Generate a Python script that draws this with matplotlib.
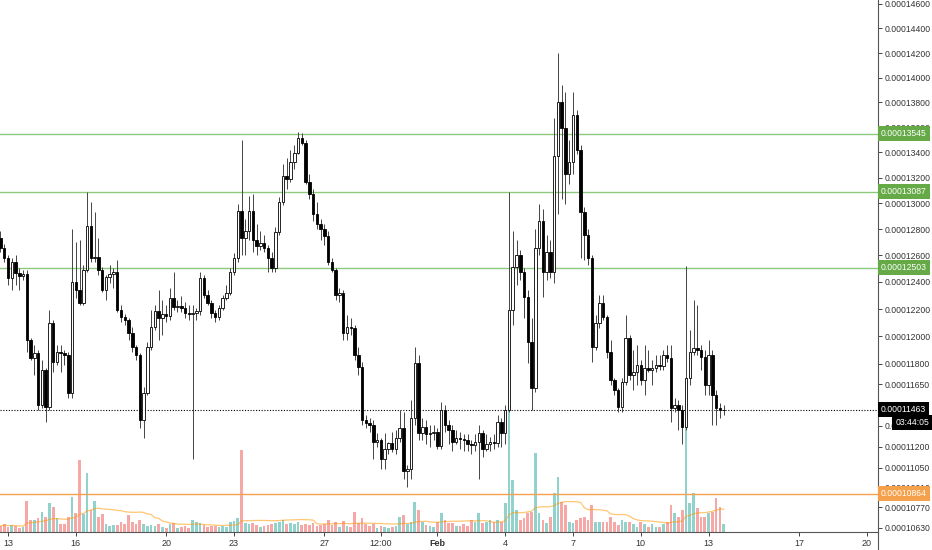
import numpy as np
import pandas as pd
import matplotlib
matplotlib.use('Agg')
import matplotlib.pyplot as plt
import matplotlib.dates as mdates
from matplotlib.lines import Line2D

plt.rcParams['font.family'] = ['Liberation Sans', 'DejaVu Sans']

# 4h candles, prices in satoshi (1e-8)
start = '2020-01-12 16:00'

open_ = [
    12736, 12658, 12580, 12430, 12549, 12466, 12444, 12459, 11976, 11844,
    11881, 11500, 11756, 11486, 12100, 11815, 11888, 11881, 11866, 11588,
    12401, 12342, 12247, 12488, 12821, 12580, 12588, 12488, 12342, 12437,
    12459, 12474, 12196, 12144, 12122, 12027, 11925, 11866, 11392, 11588,
    11925, 12071, 12188, 12137, 12166, 12152, 12283, 12218, 12225, 12210,
    12174, 12166, 12175, 12185, 12430, 12305, 12247, 12174, 12144, 12210,
    12283, 12320, 12474, 12580, 12938, 12736, 12783, 12938, 12720, 12674,
    12697, 12658, 12580, 12503, 12775, 13008, 13210, 13187, 13319, 13397,
    13514, 13475, 13164, 13070, 12915, 12837, 12798, 12744, 12549, 12488,
    12305, 12320, 12027, 12071, 12064, 11866, 11778, 11392, 11371, 11357,
    11237, 11251, 11110, 11181, 11223, 11181, 11265, 11336, 11025, 11039,
    11407, 11808, 11301, 11343, 11287, 11300, 11308, 11202, 11463, 11357,
    11322, 11237, 11265, 11258, 11251, 11216, 11209, 11237, 11301, 11181,
    11216, 11230, 11223, 11378, 11301, 11463, 12196, 12510, 12604, 12474,
    12291, 11961, 11625, 12658, 12860, 12474, 12627, 12474, 13366, 13805,
    13594, 13226, 13319, 13699, 13421, 12930, 12759, 12580, 11925, 12100,
    12247, 12144, 11888, 11683, 11610, 11486, 11669, 11991, 11720, 11742,
    11793, 11683, 11771, 11756, 11771, 11793, 11786, 11866, 11844, 11478,
    11500, 11463, 11343, 11698, 11888, 11917, 11903, 11852, 11647, 11866,
    11573, 11478, 11463,
]

high = [
    12783, 12689, 12604, 12580, 12604, 12503, 12488, 12488, 11991, 11939,
    11903, 11830, 11771, 12196, 12122, 11939, 11939, 11903, 11888, 12798,
    12705, 12720, 12526, 13086, 13008, 12930, 12736, 12510, 12452, 12526,
    12503, 12565, 12232, 12166, 12137, 12071, 11939, 11880, 11632, 11961,
    12196, 12232, 12342, 12269, 12232, 12357, 12474, 12269, 12298, 12254,
    12232, 12232, 12210, 12474, 12452, 12342, 12269, 12196, 12232, 12305,
    12379, 12503, 12619, 12993, 13498, 12876, 13055, 13070, 12837, 12783,
    12759, 12681, 12627, 12814, 13047, 13304, 13358, 13421, 13459, 13561,
    13553, 13498, 13226, 13109, 13008, 12876, 12837, 12783, 12580, 12500,
    12357, 12342, 12159, 12137, 12086, 11925, 11815, 11428, 11407, 11392,
    11301, 11265, 11301, 11237, 11308, 11322, 11463, 11449, 11068, 11537,
    11925, 11866, 11407, 11392, 11357, 11357, 11336, 11522, 11500, 11392,
    11357, 11322, 11308, 11287, 11287, 11251, 11287, 11357, 11322, 11287,
    11272, 11287, 11428, 11407, 11500, 13086, 12783, 12720, 12643, 12503,
    12342, 12137, 12798, 12993, 12954, 12759, 12720, 13675, 14202, 13943,
    13886, 13498, 13886, 13740, 13459, 12969, 12798, 12604, 12159, 12305,
    12305, 12159, 11976, 11698, 11625, 11698, 12159, 12013, 11903, 11939,
    11830, 11939, 11903, 11830, 11866, 11866, 11903, 11939, 11939, 11551,
    11537, 11500, 12518, 12049, 12269, 12232, 11939, 11903, 11976, 11903,
    11610, 11515, 11500,
]

low = [
    12627, 12549, 12379, 12342, 12379, 12342, 12415, 11888, 11830, 11720,
    11463, 11478, 11378, 11463, 11742, 11793, 11742, 11793, 11551, 11551,
    12283, 12232, 12232, 12474, 12549, 12549, 12452, 12327, 12269, 12393,
    12357, 12181, 12108, 12086, 11976, 11888, 11830, 11336, 11265, 11573,
    11903, 12049, 11976, 12013, 12108, 12122, 12196, 12181, 12181, 12137,
    12122, 11110, 12122, 12159, 12283, 12232, 12137, 12108, 12122, 12196,
    12269, 12305, 12452, 12549, 12604, 12604, 12720, 12627, 12604, 12643,
    12627, 12474, 12474, 12474, 12759, 12985, 13109, 13164, 13265, 13382,
    13459, 13148, 13032, 12860, 12798, 12720, 12681, 12526, 12474, 12269,
    12254, 11976, 11976, 12013, 11830, 11720, 11357, 11336, 11308, 11110,
    11195, 11039, 11039, 11145, 11159, 11145, 11237, 10969, 10912, 10969,
    11357, 11251, 11251, 11216, 11195, 11251, 11181, 11181, 11308, 11216,
    11166, 11216, 11181, 11166, 11166, 11145, 11166, 10969, 11124, 11166,
    11166, 11181, 11195, 11195, 11216, 11449, 12086, 12379, 12415, 12137,
    11808, 11463, 11595, 12604, 12291, 12415, 12430, 12393, 12915, 13032,
    12993, 13148, 13226, 13382, 12580, 12565, 12526, 11815, 11903, 12064,
    12122, 11844, 11647, 11573, 11449, 11449, 11647, 11683, 11610, 11647,
    11647, 11573, 11742, 11647, 11742, 11756, 11756, 11815, 11378, 11449,
    11322, 11216, 11322, 11647, 11866, 11866, 11756, 11573, 11573, 11357,
    11357, 11407, 11428,
]

close = [
    12658, 12580, 12430, 12549, 12466, 12444, 12459, 11976, 11844, 11881,
    11500, 11756, 11486, 12100, 11815, 11888, 11881, 11866, 11588, 12401,
    12342, 12247, 12488, 12821, 12580, 12588, 12488, 12342, 12437, 12459,
    12474, 12196, 12144, 12122, 12027, 11925, 11866, 11392, 11588, 11925,
    12071, 12188, 12137, 12166, 12152, 12283, 12218, 12225, 12210, 12174,
    12166, 12175, 12185, 12430, 12305, 12247, 12174, 12144, 12210, 12283,
    12320, 12474, 12580, 12938, 12736, 12783, 12938, 12720, 12674, 12697,
    12658, 12580, 12503, 12775, 13008, 13210, 13187, 13319, 13397, 13514,
    13475, 13164, 13070, 12915, 12837, 12798, 12744, 12549, 12488, 12305,
    12320, 12027, 12071, 12064, 11866, 11778, 11392, 11371, 11357, 11237,
    11251, 11110, 11181, 11223, 11181, 11265, 11336, 11025, 11039, 11407,
    11808, 11301, 11343, 11287, 11300, 11308, 11202, 11463, 11357, 11322,
    11237, 11265, 11258, 11251, 11216, 11209, 11237, 11301, 11181, 11216,
    11230, 11223, 11378, 11301, 11463, 12196, 12510, 12604, 12474, 12291,
    11961, 11625, 12658, 12860, 12474, 12627, 12474, 13366, 13805, 13594,
    13226, 13319, 13699, 13421, 12930, 12759, 12580, 11925, 12100, 12247,
    12144, 11888, 11683, 11610, 11486, 11669, 11991, 11720, 11742, 11793,
    11683, 11771, 11756, 11771, 11793, 11786, 11866, 11844, 11478, 11500,
    11463, 11343, 11698, 11888, 11917, 11903, 11852, 11647, 11866, 11573,
    11478, 11463, 11463,
]

volume = [
    6, 8, 5, 7, 6, 4, 5,
    31, 12, 12, 14, 20, 15, 29, 25, 14, 8, 8, 15, 35,
    19, 72, 18, 59, 22, 31, 15, 18, 8, 6, 7, 7, 10, 8, 17, 10, 8, 12, 8, 6,
    7, 6, 8, 5, 4, 8, 9, 4, 5, 6, 4, 12, 10, 9, 7, 5, 6, 6, 5, 6, 5, 10, 11, 14,
    82, 9, 8, 9, 7, 5, 6, 7, 8, 9, 10, 12, 8, 9, 8, 10, 7,
    8, 7, 9, 6, 7, 8, 12, 7, 10, 5, 11, 6, 5, 20, 9, 14, 8, 6, 8, 4,
    6, 5, 4, 5, 6, 15, 17, 8, 10, 30, 22, 10, 7, 6, 5, 10,
    19, 12, 9, 9, 6, 6, 8, 6, 12, 10, 19, 9, 10, 12, 10, 12, 10, 29,
    122, 52, 22, 12, 14, 19, 20, 79, 19, 12, 9, 15, 39, 55, 30, 27, 10, 9, 12, 14,
    15, 12, 27,
    10, 10, 10, 10, 15, 10, 7, 12, 10, 10, 8, 5, 10, 8, 5, 8, 5, 5, 8, 10,
    27, 19, 15, 22, 110, 29, 39, 24, 15, 15, 19, 20, 34, 25, 8,
]

levels = [13545, 13087, 12503]
support = 10864
last_price = 11463
countdown = '03:44:05'

price_ticks = [14600, 14400, 14200, 14000, 13800, 13600, 13400, 13200, 13000,
               12800, 12600, 12400, 12200, 12000, 11800, 11650, 11500, 11350,
               11200, 11050, 10910, 10770, 10630]
date_ticks = ['2020-01-13 00:00', '2020-01-16 00:00', '2020-01-20 00:00',
              '2020-01-23 00:00', '2020-01-27 00:00', '2020-01-29 12:00',
              '2020-02-01 00:00', '2020-02-04 00:00', '2020-02-07 00:00',
              '2020-02-10 00:00', '2020-02-13 00:00', '2020-02-17 00:00',
              '2020-02-20 00:00']
date_labels = ['13', '16', '20', '23', '27', '12:00', 'Feb', '4', '7', '10', '13', '17', '20']

# the tradingview price scale is squeezed towards the top, rebuild it from the axis
scale_p = np.array([9000, 10630, 10864, 11463, 12503, 13087, 13545, 14600, 16000])
scale_v = np.array([-772, -528, -494, -410, -268, -192, -134, -4, 164])


def fwd(p):
    return np.interp(p, scale_p, scale_v)


def inv(v):
    return np.interp(v, scale_v, scale_p)


o = np.array(open_, dtype=float)
h = np.array(high, dtype=float)
l = np.array(low, dtype=float)
c = np.array(close, dtype=float)
vol = np.array(volume, dtype=float)
t = mdates.date2num(pd.date_range(start, periods=len(c), freq='4h'))
up = c >= o

W, H = 932, 550
fig = plt.figure(figsize=(W / 100, H / 100), dpi=100)
ax = fig.add_axes([0, 18 / H, 878 / W, 532 / H])
axv = ax.twinx()
ax.set_zorder(axv.get_zorder() + 1)
ax.patch.set_visible(False)

day0 = mdates.date2num(pd.Timestamp('2020-01-13'))
px_day = 22.6
ax.set_xlim(day0 - 8 / px_day, day0 + 870 / px_day)

# volume
vol_colors = np.where(up, '#26a69a', '#ef5350')
axv.bar(t, vol, width=0.12, color=vol_colors, alpha=0.5, linewidth=0)
vol_ma = pd.Series(vol).rolling(20, min_periods=1).mean()
axv.plot(t, vol_ma, color='#ff9800', alpha=0.55, lw=0.9)
axv.set_ylim(0, vol.max() / 0.23)
axv.axis('off')

# candles
ax.set_yscale('function', functions=(fwd, inv))
ax.set_ylim(10602, 14632)
ax.vlines(t, l, h, color='#444444', lw=0.7, zorder=2)
ax.bar(t[up], c[up] - o[up], bottom=o[up], width=0.11, color='white',
       edgecolor='black', linewidth=0.6, zorder=3)
ax.bar(t[~up], o[~up] - c[~up], bottom=c[~up], width=0.11, color='black',
       edgecolor='black', linewidth=0.6, zorder=3)

for lv in levels:
    ax.axhline(lv, color='#8cc97c', lw=1, zorder=1)
ax.axhline(support, color='#f5a04a', lw=1, zorder=1)
ax.axhline(last_price, color='black', lw=0.8, ls=(0, (1, 1.5)), zorder=1)


def price_tag(price, fc, text=None, dx=2, dy=0):
    ax.annotate(text or f'{price * 1e-8:.8f}', xy=(1, price),
                xycoords=('axes fraction', 'data'), xytext=(dx, dy),
                textcoords='offset points', ha='left', va='center',
                fontsize=6.2, color='white', annotation_clip=False, zorder=5,
                bbox=dict(boxstyle='square,pad=0.35', fc=fc, ec='none'))


for lv in levels:
    price_tag(lv, '#66aa48')
price_tag(support, '#f5a04a')
price_tag(last_price, 'black')
price_tag(last_price, 'black', text=countdown, dx=12.5, dy=-9.4)

ax.yaxis.tick_right()
ax.set_yticks(price_ticks)
ax.set_yticklabels([f'{p * 1e-8:.8f}' for p in price_ticks])
ax.yaxis.set_minor_locator(matplotlib.ticker.NullLocator())
ax.tick_params(axis='y', direction='out', length=3, width=0.7, pad=1.5,
               labelsize=6.2, colors='#444444', labelcolor='#333333')

ax.set_xticks(mdates.date2num(pd.to_datetime(date_ticks)))
ax.set_xticklabels(date_labels)
ax.tick_params(axis='x', direction='out', length=3, width=0.7, pad=2,
               labelsize=6.5, colors='#444444', labelcolor='#333333')
for lab in ax.get_xticklabels():
    if lab.get_text() == 'Feb':
        lab.set_fontweight('bold')

for side in ['top', 'left']:
    ax.spines[side].set_visible(False)
for side in ['right', 'bottom']:
    ax.spines[side].set_color('#555555')
    ax.spines[side].set_linewidth(0.8)
fig.add_artist(Line2D([878 / W, 878 / W], [0, 18 / H], color='#555555', lw=0.8))

fig.savefig('out.png', dpi=100, facecolor='white')
